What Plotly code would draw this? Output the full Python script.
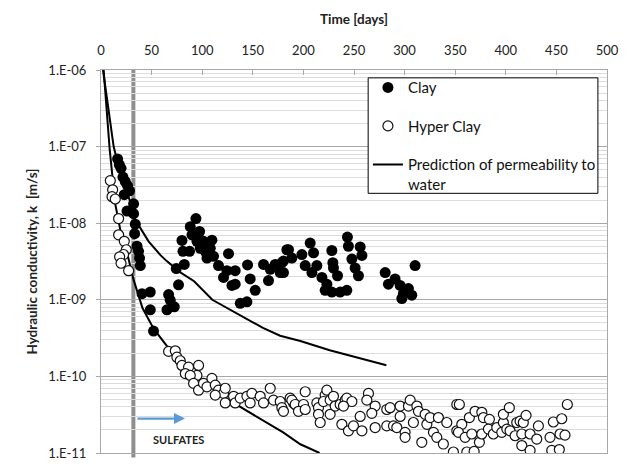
import plotly.graph_objects as go

# ---------------- data ----------------
clay_days = [16.4, 18.1, 19.8, 21.7, 24, 26.3, 28.2, 23, 32.2, 25.7, 32.2, 33.9, 33.2, 35.6, 37.1,
             38.1, 38.8, 40.5, 48.7, 48.7, 51.9, 66.8, 68.4, 65.2, 72.4, 76.6, 74.4, 82.3, 80, 81,
             87.5, 88.2, 93.8, 89.9, 96.4, 98.1, 103, 104.7, 97.4, 94.8, 101.3, 109.6, 98.1, 108,
             104.7, 111.2, 126, 116.1, 124.4, 132.6, 121.1, 132.6, 129.4, 144.8, 147.4, 152.4,
             144.2, 137.6, 160.6, 167.2, 172.1, 177.1, 165.5, 180.3, 183.7, 185.3, 188.6, 178.7,
             180.3, 206.7, 210, 198.5, 201.8, 208.4, 213.3, 218.3, 223.2, 221.5, 228.1, 228.1,
             229.1, 229.7, 233.7, 236.3, 242.9, 243.5, 244.5, 256.1, 257.8, 247.9, 251.1, 254.4,
             280.8, 284, 290.6, 295.6, 298.8, 303.8, 307.1, 310.4, 297.3]
clay_k = [6.9e-8, 5.8e-8, 5.2e-8, 4.0e-8, 3.5e-8, 3.07e-8, 2.65e-8, 2.36e-8, 1.79e-8, 1.44e-8,
          1.33e-8, 9.7e-9, 7.3e-9, 5.0e-9, 4.3e-9, 3.5e-9, 2.8e-9, 1.2e-9, 1.26e-9, 7.4e-10,
          3.9e-10, 1.17e-9, 9.9e-10, 7.4e-10, 8.1e-10, 1.57e-9, 2.56e-9, 2.9e-9, 5.96e-9, 4.3e-9,
          4.3e-9, 9.0e-9, 1.15e-8, 7.05e-9, 7.4e-9, 5.5e-9, 4.3e-9, 3.5e-9, 7.8e-9, 5.8e-9,
          5.8e-9, 6.0e-9, 4.7e-9, 4.7e-9, 4.1e-9, 3.7e-9, 4.0e-9, 2.8e-9, 2.4e-9, 2.4e-9,
          1.96e-9, 1.6e-9, 1.54e-9, 2.85e-9, 1.87e-9, 1.33e-9, 9.4e-10, 9.0e-10, 2.9e-9, 2.5e-9,
          2.9e-9, 2.27e-9, 1.78e-9, 3.2e-9, 4.5e-9, 4.5e-9, 3.5e-9, 3.05e-9, 2.27e-9, 5.5e-9,
          4.1e-9, 3.9e-9, 2.8e-9, 2.27e-9, 2.8e-9, 1.96e-9, 1.6e-9, 1.33e-9, 1.26e-9, 4.4e-9,
          3.05e-9, 2.6e-9, 2.06e-9, 1.26e-9, 1.33e-9, 6.6e-9, 5.0e-9, 4.9e-9, 3.8e-9, 3.4e-9,
          2.6e-9, 2.06e-9, 2.27e-9, 1.6e-9, 1.87e-9, 1.54e-9, 1.2e-9, 1.4e-9, 1.15e-9, 2.8e-9,
          1.04e-9]

hyper_days = [9.2, 11.5, 10.9, 14.1, 17.4, 17.4, 23, 25, 22.3, 18.4, 19.8, 27.3,
              66.8, 73.4, 75, 78.3, 80, 86.5, 83.3, 96.4, 94.8, 88.2, 91.5, 96.4, 101.3, 109.6,
              104.7, 112.9, 116.1, 121.1, 122.8, 112.9, 122.8, 131, 132.6, 137.6, 144.2, 147.4,
              149.1, 157.3, 160.6, 167.2, 170.5, 177.1, 178.7, 180.3, 186.9, 190.2, 193.6,
              201.8, 188.6, 191.9, 200.1, 195.1, 201.8, 213.3, 214.9, 214.9, 216.6, 221.5, 223.2,
              219.8, 226.4, 229.7, 226.4, 231.4, 236.3, 241.3, 242.9, 247.9, 239.6, 238, 244.5,
              249.5, 257.8, 256.1, 264.3, 262.7, 270.9, 267.6, 270.9, 282.4, 285.7, 282.4, 289,
              292.3, 295.6, 295.6, 300.5, 300.5, 303.8, 305.5, 308.7, 312.1, 313.7, 317, 320.3,
              322, 325.2, 328.5, 331.8, 333.4, 338.3, 341.7, 348.2, 351.6, 351.6,
              354.1, 356.5, 353.2, 359.8, 361.5, 368.7, 364, 369.6, 376.3, 377.9, 383.8, 366.4,
              373.9, 376.3, 382.8, 387.7, 391.1, 396, 397.6, 397.6, 403.5, 401, 404.2, 409.2,
              410.8, 415.8, 415.8, 414.1, 417.3, 420, 424, 424, 430.6, 432.2, 443.7, 447, 445.4,
              452.9, 455.3, 453.6, 458.5, 460.8]
hyper_k = [3.6e-8, 2.73e-8, 2.22e-8, 2.07e-8, 1.15e-8, 7.05e-9, 5.8e-9, 4.5e-9, 3.9e-9, 3.64e-9,
           3.0e-9, 2.4e-9,
           2.12e-10, 2.16e-10, 1.78e-10, 1.6e-10, 1.39e-10, 1.32e-10, 1.09e-10, 1.39e-10,
           1.03e-10, 1.03e-10, 8.1e-11, 6.6e-11, 8.1e-11, 9.4e-11, 7.3e-11, 7.7e-11, 6.6e-11,
           6.0e-11, 7.0e-11, 5.7e-11, 4.5e-11, 5.5e-11, 4.5e-11, 5.2e-11, 5.5e-11, 4.5e-11,
           6.0e-11, 5.5e-11, 4.5e-11, 7.0e-11, 4.9e-11, 4.7e-11, 3.9e-11, 3.5e-11, 5.2e-11,
           4.5e-11, 4.1e-11,
           6.3e-11, 4.9e-11, 4.3e-11, 4.3e-11, 3.5e-11, 3.7e-11, 4.5e-11, 3.9e-11, 3.2e-11,
           2.5e-11, 5.7e-11, 6.6e-11, 4.7e-11, 4.9e-11, 5.5e-11, 3.2e-11, 4.1e-11, 4.3e-11,
           4.9e-11, 5.2e-11, 4.7e-11, 4.1e-11, 2.37e-11, 1.95e-11, 2.26e-11, 1.95e-11, 3.0e-11,
           6.0e-11, 4.9e-11, 4.1e-11, 3.3e-11, 2.15e-11, 3.7e-11, 3.9e-11, 2.26e-11, 2.26e-11,
           2.15e-11, 3.0e-11, 4.1e-11, 1.86e-11, 1.6e-11, 4.1e-11, 4.9e-11, 2.5e-11, 4.1e-11,
           3.5e-11, 1.38e-11, 3.2e-11, 2.37e-11, 2.9e-11, 1.86e-11, 1.6e-11, 2.9e-11, 1.31e-11,
           2.5e-11, 1.03e-11, 4.3e-11, 1.95e-11,
           4.3e-11, 2.37e-11, 1.86e-11, 1.6e-11, 1.03e-11, 1.05e-11, 2.9e-11, 3.5e-11, 3.4e-11,
           2.9e-11, 2.75e-11, 1.77e-11, 1.38e-11, 1.77e-11, 2.05e-11, 1.77e-11, 2.15e-11,
           1.86e-11, 2.5e-11, 3.2e-11, 3.9e-11, 2.05e-11, 1.95e-11, 1.68e-11, 2.5e-11, 1.77e-11,
           1.25e-11, 2.6e-11, 2.5e-11, 3.1e-11, 1.77e-11, 1.08e-11, 1.52e-11, 2.26e-11, 1.6e-11,
           2.54e-11, 1.08e-11, 1.11e-11, 2.8e-11, 1.77e-11, 1.71e-11, 4.3e-11]

pred_clay_days = [2, 7, 12.5, 20, 29, 34, 47, 59, 65, 78, 92, 110, 134, 160, 177, 197, 226, 255, 282]
pred_clay_k = [1.0e-6, 3.2e-7, 1.0e-7, 4.0e-8, 1.9e-8, 1.1e-8, 5.8e-9, 3.8e-9, 3.2e-9, 2.3e-9,
               1.75e-9, 1.0e-9, 6.6e-10, 4.3e-10, 3.4e-10, 2.9e-10, 2.2e-10, 1.75e-10, 1.4e-10]

pred_hyper_days = [2.6, 5.5, 8.5, 14, 17.4, 20, 26, 29, 32, 41, 52, 65, 80, 98, 115, 131, 150, 164, 180, 197, 216]
pred_hyper_k = [1.0e-6, 3.2e-7, 9.5e-8, 1.8e-8, 1.0e-8, 7.1e-9, 4.0e-9, 2.6e-9, 1.86e-9, 7.8e-10,
                4.2e-10, 2.5e-10, 1.5e-10, 9.3e-11, 6.3e-11, 4.5e-11, 3.2e-11, 2.5e-11, 1.86e-11,
                1.3e-11, 1.0e-11]

sulfate_day = 32
arrow_start_day, arrow_end_day, arrow_k_log = 34.5, 83, -10.55
label_day, label_k_log = 76.5, -10.82

x_ticks = [0, 50, 100, 150, 200, 250, 300, 350, 400, 450, 500]
y_tickvals = [1e-6, 1e-7, 1e-8, 1e-9, 1e-10, 1e-11]
y_ticktext = ["1.E-06", "1.E-07", "1.E-08", "1.E-09", "1.E-10", "1.E-11"]

FONT = "Lato"
minor_vals = [m * 10.0 ** e for e in range(-11, -6) for m in range(2, 10)]

fig = go.Figure()

fig.add_trace(go.Scatter(
    x=pred_clay_days, y=pred_clay_k, mode="lines", name="Prediction of permeability to<br>water",
    line=dict(color="black", width=2), legendgroup="c", showlegend=True, legendrank=3))
fig.add_trace(go.Scatter(
    x=pred_hyper_days, y=pred_hyper_k, mode="lines", name="pred2",
    line=dict(color="black", width=2), legendgroup="c", showlegend=False))
fig.add_trace(go.Scatter(
    x=clay_days, y=clay_k, mode="markers", name="Clay", legendgroup="a", legendrank=1,
    marker=dict(symbol="circle", size=11, color="black", line=dict(width=0))))
fig.add_trace(go.Scatter(
    x=hyper_days, y=hyper_k, mode="markers", name="Hyper Clay", legendgroup="b", legendrank=2,
    marker=dict(symbol="circle", size=10, color="white", line=dict(width=1.2, color="#111"))))

fig.add_shape(type="line", xref="x", yref="paper", x0=sulfate_day, x1=sulfate_day,
              y0=-0.012, y1=1, line=dict(color="#8f8f8f", width=4), layer="below")

# legend frame
fig.add_shape(type="rect", xref="paper", yref="paper", x0=0.528, x1=0.982, y0=0.678, y1=0.9795,
              line=dict(color="black", width=1), fillcolor="white", layer="above")

fig.add_annotation(x=arrow_end_day, y=arrow_k_log, ax=arrow_start_day, ay=arrow_k_log,
                   xref="x", yref="y", axref="x", ayref="y", text="", showarrow=True,
                   arrowhead=2, arrowsize=1, arrowwidth=2.2, arrowcolor="#5b9bd5")
fig.add_annotation(x=label_day, y=label_k_log, xref="x", yref="y", text="<b>SULFATES</b>",
                   showarrow=False, font=dict(family=FONT, size=11, color="#222"))

fig.update_layout(
    width=632, height=471,
    margin=dict(l=101, r=25, t=70, b=10),
    paper_bgcolor="white", plot_bgcolor="white",
    font=dict(family=FONT, size=12.5, color="#222"),
    legend=dict(x=0.988, y=0.997, xanchor="right", yanchor="top",
                borderwidth=0, bgcolor="rgba(0,0,0,0)",
                font=dict(family=FONT, size=15, color="#111"), itemwidth=30,
                traceorder="grouped", tracegroupgap=16, valign="top"),
    xaxis=dict(side="top", range=[0, 500], tickvals=x_ticks, ticks="inside", ticklen=5,
               tickcolor="#a8a8a8", showgrid=False, showline=True, linecolor="#a8a8a8",
               linewidth=1, mirror=True, zeroline=False, ticklabelstandoff=9,
               title=dict(text="<b>Time [days]</b>", font=dict(family=FONT, size=13.5), standoff=14),
               tickfont=dict(family=FONT, size=13)),
    yaxis=dict(type="log", range=[-11, -6], tickvals=y_tickvals, ticktext=y_ticktext,
               ticks="outside", ticklen=4, tickcolor="#a8a8a8", ticklabelstandoff=7,
               showgrid=True, gridcolor="#a8a8a8", gridwidth=1,
               minor=dict(tickvals=minor_vals, showgrid=True, gridcolor="#dcdcdc", gridwidth=1, ticks=""),
               showline=True, linecolor="#a8a8a8", linewidth=1, mirror=True, zeroline=False,
               title=dict(text="<b>Hydraulic conductivity, k  [m/s]</b>", font=dict(family=FONT, size=13.5), standoff=7),
               tickfont=dict(family=FONT, size=13)),
)

fig.write_html("out.html")
